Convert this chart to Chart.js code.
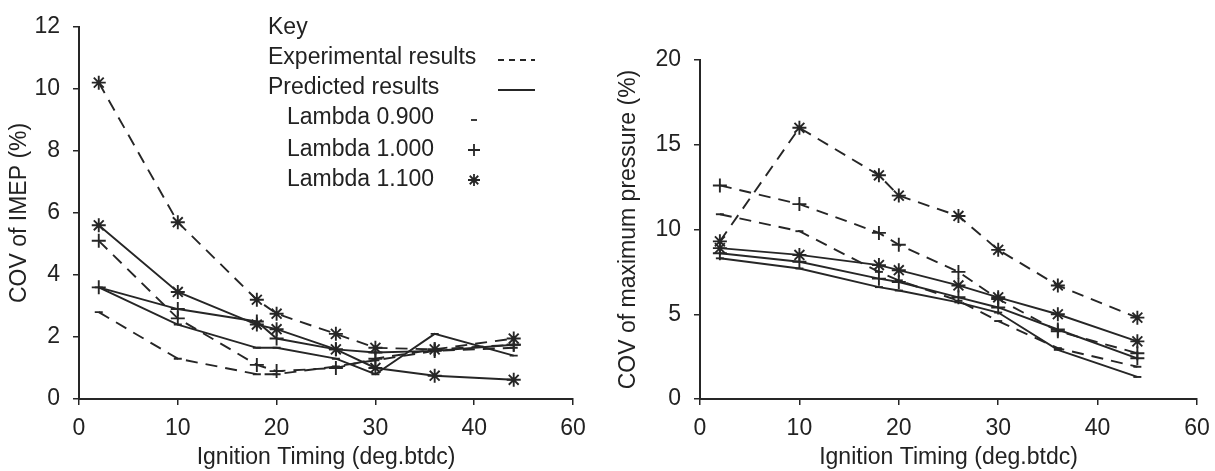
<!DOCTYPE html>
<html>
<head>
<meta charset="UTF-8">
<title>COV versus ignition timing</title>
<script src="https://cdn.jsdelivr.net/npm/chart.js"></script>
<style>
  html, body { margin: 0; background: #fff; overflow: hidden; }
  .panel { position: absolute; top: 0; height: 471px; }
  #left { left: 0; width: 607px; }
  #right { left: 607px; width: 608px; }
</style>
</head>
<body>
<div class="panel" id="left"><canvas id="imep"></canvas></div>
<div class="panel" id="right"><canvas id="pmax"></canvas></div>
<script>
// ignition timing (deg btdc) of every test point
var timing = [2, 10, 18, 20, 26, 30, 36, 44];
var xTickLabels = ['0', '10', '20', '30', '40', '60'];

// COV of IMEP (%)
var imepExp09 = [2.8, 1.3, 0.8, 0.8, 1.05, 1.25, 1.55, 1.65];
var imepExp10 = [5.1, 2.6, 1.1, 0.9, 1.0, 1.3, 1.6, 1.75];
var imepExp11 = [10.2, 5.7, 3.2, 2.75, 2.1, 1.65, 1.6, 1.95];
var imepPred09 = [3.6, 2.4, 1.65, 1.65, 1.3, 0.8, 2.1, 1.4];
var imepPred10 = [3.6, 2.9, 2.5, 1.95, 1.6, 1.5, 1.55, 1.75];
var imepPred11 = [5.6, 3.45, 2.4, 2.25, 1.6, 1.0, 0.75, 0.62];

// COV of maximum pressure (%)
var pmaxExp09 = [10.9, 9.9, 7.5, 7.0, 5.8, 4.6, 3.0, 1.9];
var pmaxExp10 = [12.6, 11.5, 9.8, 9.1, 7.5, 5.9, 4.0, 2.7];
var pmaxExp11 = [9.3, 16.0, 13.2, 12.0, 10.8, 8.8, 6.7, 4.8];
var pmaxPred09 = [8.3, 7.7, 6.6, 6.4, 5.7, 5.1, 2.9, 1.3];
var pmaxPred10 = [8.6, 8.1, 7.1, 6.9, 6.0, 5.4, 4.1, 2.4];
var pmaxPred11 = [8.9, 8.5, 7.9, 7.6, 6.7, 6.0, 5.0, 3.4];

var ink = '#262626';
var fontFamily = '"Liberation Sans", Arial, sans-serif';
var fontSize = 23;
var dashPattern = [12, 8];

function series(label, ys, dashed, marker) {
    return {
        label: label,
        data: timing.map(function (x, i) { return { x: x, y: ys[i] }; }),
        borderColor: ink,
        borderWidth: 1.9,
        borderDash: dashed ? dashPattern : [],
        pointStyle: marker,
        pointRadius: marker === 'line' ? 4 : 7,
        pointBorderColor: ink,
        pointBorderWidth: 1.9,
        pointBackgroundColor: ink,
        fill: false,
        tension: 0
    };
}

function scales(yMax, yStep, yTitle, yWidth, yTitlePad) {
    return {
        x: {
            type: 'linear',
            min: 0,
            max: 50,
            afterFit: function (s) {
                s.height = 72;
                s.paddingLeft = 0;
                s.paddingRight = 14;
            },
            border: { display: true, color: ink, width: 2 },
            grid: { drawOnChartArea: false, drawTicks: true, tickLength: 6, color: ink, lineWidth: 1.5 },
            ticks: {
                stepSize: 10,
                padding: 10,
                color: '#222',
                font: { family: fontFamily, size: fontSize },
                callback: function (v, i) { return xTickLabels[i]; }
            },
            title: {
                display: true,
                text: 'Ignition Timing (deg.btdc)',
                color: '#222',
                font: { family: fontFamily, size: fontSize },
                padding: { top: 0, bottom: 0 }
            }
        },
        y: {
            min: 0,
            max: yMax,
            afterFit: function (s) { s.width = yWidth; },
            border: { display: true, color: ink, width: 2 },
            grid: { drawOnChartArea: false, drawTicks: true, tickLength: 6, color: ink, lineWidth: 1.5 },
            ticks: {
                stepSize: yStep,
                padding: 13,
                color: '#222',
                font: { family: fontFamily, size: fontSize }
            },
            title: {
                display: true,
                text: yTitle,
                color: '#222',
                font: { family: fontFamily, size: fontSize },
                padding: { top: yTitlePad, bottom: 4 }
            }
        }
    };
}

// key drawn in the upper part of the IMEP panel
var keyPlugin = {
    id: 'key',
    afterDraw: function (chart) {
        var ctx = chart.ctx;
        ctx.save();
        ctx.fillStyle = '#222';
        ctx.strokeStyle = ink;
        ctx.lineWidth = 1.8;
        ctx.font = fontSize + 'px ' + fontFamily;
        ctx.textBaseline = 'middle';
        ctx.textAlign = 'left';
        ctx.fillText('Key', 268, 28);
        ctx.fillText('Experimental results', 268, 58);
        ctx.fillText('Predicted results', 268, 88);
        ctx.fillText('Lambda 0.900', 287, 118);
        ctx.fillText('Lambda 1.000', 287, 150);
        ctx.fillText('Lambda 1.100', 287, 180);

        ctx.beginPath();
        ctx.setLineDash([6, 5]);
        ctx.moveTo(498, 60);
        ctx.lineTo(535, 60);
        ctx.stroke();
        ctx.setLineDash([]);
        ctx.beginPath();
        ctx.moveTo(498, 90);
        ctx.lineTo(535, 90);
        ctx.stroke();

        Chart.helpers.drawPoint(ctx, { pointStyle: 'line', radius: 3, borderWidth: 1.8 }, 474, 120);
        Chart.helpers.drawPoint(ctx, { pointStyle: 'cross', radius: 6, borderWidth: 1.8 }, 474, 150);
        Chart.helpers.drawPoint(ctx, { pointStyle: 'star', radius: 6, borderWidth: 1.8 }, 474, 180);
        ctx.restore();
    }
};

function makeChart(id, sets, yMax, yStep, yTitle, yWidth, yTitlePad, pad, extra) {
    return new Chart(document.getElementById(id), {
        type: 'line',
        data: { datasets: sets },
        options: {
            responsive: true,
            maintainAspectRatio: false,
            animation: false,
            layout: { padding: pad },
            plugins: { legend: { display: false }, tooltip: { enabled: false } },
            scales: scales(yMax, yStep, yTitle, yWidth, yTitlePad)
        },
        plugins: extra
    });
}

makeChart('imep', [
    series('Experimental, Lambda 0.900', imepExp09, true, 'line'),
    series('Experimental, Lambda 1.000', imepExp10, true, 'cross'),
    series('Experimental, Lambda 1.100', imepExp11, true, 'star'),
    series('Predicted, Lambda 0.900', imepPred09, false, 'line'),
    series('Predicted, Lambda 1.000', imepPred10, false, 'cross'),
    series('Predicted, Lambda 1.100', imepPred11, false, 'star')
], 12, 2, 'COV of IMEP (%)', 79, 6, { top: 20, right: 34, left: 0, bottom: 0 }, [keyPlugin]);

makeChart('pmax', [
    series('Experimental, Lambda 0.900', pmaxExp09, true, 'line'),
    series('Experimental, Lambda 1.000', pmaxExp10, true, 'cross'),
    series('Experimental, Lambda 1.100', pmaxExp11, true, 'star'),
    series('Predicted, Lambda 0.900', pmaxPred09, false, 'line'),
    series('Predicted, Lambda 1.000', pmaxPred10, false, 'cross'),
    series('Predicted, Lambda 1.100', pmaxPred11, false, 'star')
], 20, 5, 'COV of maximum pressure (%)', 93, 8, { top: 60, right: 18, left: 0, bottom: 0 }, []);
</script>
</body>
</html>
